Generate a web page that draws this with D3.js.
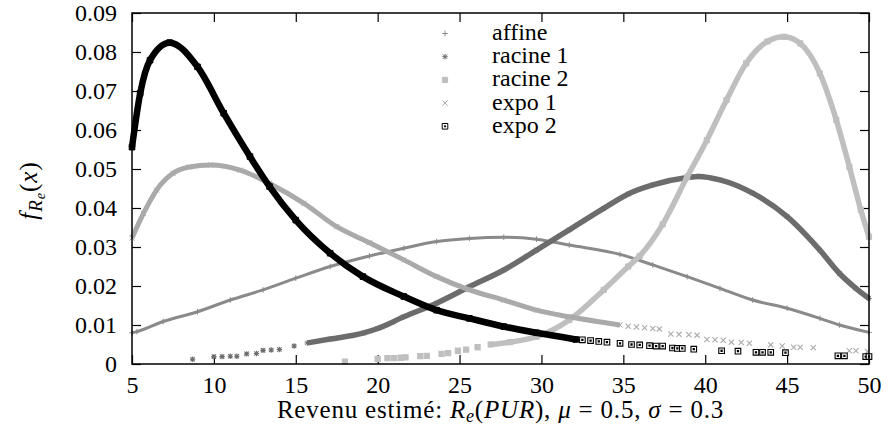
<!DOCTYPE html>
<html>
<head>
<meta charset="utf-8">
<script src="https://cdn.jsdelivr.net/npm/d3@7"></script>
</head>
<body style="margin:0;background:#fff">
<div id="chart"></div>
<script>
// ticks
var xTicks = [5, 10, 15, 20, 25, 30, 35, 40, 45, 50];
var yTicks = [0, 0.01, 0.02, 0.03, 0.04, 0.05, 0.06, 0.07, 0.08, 0.09];

// series: [revenu, densite]
// "dense" parts are drawn as a band, "sparse" parts as single markers
var affineDense = [[5.0,0.0080],[5.3,0.0083],[6.9,0.0109],[9.0,0.0134],[11.0,0.0164],[13.0,0.0190],
	[15.0,0.0220],[17.1,0.0250],[19.5,0.0277],[21.6,0.0297],[23.6,0.0314],[25.6,0.0322],[27.7,0.0325],
	[29.7,0.0320],[31.7,0.0305],[34.8,0.0281],[36.8,0.0254],[38.9,0.0224],[40.9,0.0194],[42.9,0.0164],
	[45.0,0.0143],[47.0,0.0117],[48.2,0.0100],[50.0,0.0081]];
var affineSparse = [];

var racine1Sparse = [[8.7,0.0012],[10.0,0.0019],[10.5,0.0019],[11.0,0.0020],[11.4,0.0020],[12.0,0.0026],
	[12.6,0.0027],[13.0,0.0035],[13.5,0.0036],[14.0,0.0037],[14.9,0.0046]];
var racine1Dense = [[15.7,0.0054],[17.1,0.0064],[19.1,0.0079],[20.0,0.0091],[21.6,0.0121],[23.6,0.0156],
	[25.6,0.0198],[27.7,0.0241],[29.7,0.0292],[31.7,0.0344],[33.8,0.0399],[35.3,0.0436],[36.8,0.0459],
	[38.9,0.0478],[39.6,0.0481],[40.9,0.0472],[42.9,0.0438],[45.0,0.0378],[47.0,0.0292],[48.2,0.0232],
	[49.2,0.0194],[50.0,0.0168]];

var racine2Sparse = [[18.0,0.0006],[20.0,0.0013],[20.6,0.0015],[21.0,0.0015],[21.4,0.0016],[21.7,0.0017],
	[22.6,0.0020],[23.0,0.0021],[23.9,0.0026],[24.3,0.0028],[24.9,0.0034],[25.4,0.0037],[26.1,0.0043]];
var racine2Dense = [[26.9,0.0050],[28.1,0.0056],[29.7,0.0070],[31.7,0.0113],[33.8,0.0190],[35.3,0.0250],
	[36.0,0.0277],[37.4,0.0358],[38.9,0.0480],[40.1,0.0574],[41.3,0.0677],[42.5,0.0771],[43.8,0.0827],
	[44.8,0.0839],[45.8,0.0822],[47.0,0.0745],[48.0,0.0626],[48.8,0.0506],[49.5,0.0395],[50.0,0.0326]];

var expo1Dense = [[5.0,0.0323],[5.7,0.0386],[6.5,0.0446],[7.5,0.0489],[8.5,0.0505],[9.8,0.0510],
	[11.6,0.0497],[13.4,0.0463],[15.5,0.0412],[17.5,0.0352],[19.5,0.0311],[21.6,0.0267],[23.6,0.0224],
	[25.6,0.0190],[27.7,0.0164],[29.7,0.0138],[31.7,0.0121],[34.8,0.0100]];
var expo1Sparse = [[35.3,0.0097],[35.8,0.0095],[36.3,0.0093],[36.8,0.0091],[37.2,0.0090],[37.9,0.0077],
	[38.4,0.0076],[39.0,0.0075],[39.5,0.0074],[40.1,0.0063],[40.6,0.0062],[41.1,0.0061],[41.6,0.0056],
	[42.2,0.0055],[42.7,0.0053],[44.0,0.0049],[44.7,0.0046],[45.4,0.0043],[45.8,0.0043],[46.6,0.0042],
	[48.8,0.0034],[49.2,0.0034],[49.9,0.0032]];

var expo2Dense = [[5.0,0.0556],[5.5,0.0694],[6.1,0.0779],[7.3,0.0824],[9.0,0.0762],[10.6,0.0643],
	[12.2,0.0532],[13.4,0.0455],[15.0,0.0369],[17.1,0.0284],[19.1,0.0224],[21.6,0.0173],[23.6,0.0138],
	[25.6,0.0117],[27.7,0.0096],[29.7,0.0080],[32.1,0.0063]];
var expo2Sparse = [[32.5,0.0062],[33.0,0.0060],[33.5,0.0058],[34.0,0.0056],[34.8,0.0053],[35.5,0.0050],
	[36.0,0.0049],[36.6,0.0047],[37.0,0.0046],[37.4,0.0046],[38.0,0.0041],[38.3,0.0040],[38.6,0.0040],
	[39.3,0.0038],[41.0,0.0034],[42.0,0.0033],[43.1,0.0030],[43.5,0.0030],[44.0,0.0030],[44.9,0.0029],
	[48.1,0.0021],[48.5,0.0021],[49.8,0.0019],[50.0,0.0019]];

var seriesNames = ['affine', 'racine 1', 'racine 2', 'expo 1', 'expo 2'];

// marker shapes
function plus(s)  { return 'M' + (-s) + ',0H' + s + 'M0,' + (-s) + 'V' + s; }
function cross(s) { return 'M' + (-s) + ',' + (-s) + 'L' + s + ',' + s + 'M' + (-s) + ',' + s + 'L' + s + ',' + (-s); }
function star(s)  { return plus(s) + cross(s * 0.8); }
function square(s){ return 'M' + (-s) + ',' + (-s) + 'H' + s + 'V' + s + 'H' + (-s) + 'Z'; }
function boxdot(s){ return square(s) + 'M-0.6,-0.6H0.6V0.6H-0.6Z'; }

var styles = [
	{ name: seriesNames[0], dense: affineDense,  sparse: affineSparse,  color: '#8a8a8a', band: 3,   mark: plus,   size: 2.8, fill: 'none' },
	{ name: seriesNames[1], dense: racine1Dense, sparse: racine1Sparse, color: '#6c6c6c', band: 5.5, mark: star,   size: 2.7, fill: 'none' },
	{ name: seriesNames[2], dense: racine2Dense, sparse: racine2Sparse, color: '#bfbfbf', band: 5.5, mark: square, size: 2.6, fill: '#bfbfbf' },
	{ name: seriesNames[3], dense: expo1Dense,   sparse: expo1Sparse,   color: '#aaaaaa', band: 5,   mark: cross,  size: 2.6, fill: 'none' },
	{ name: seriesNames[4], dense: expo2Dense,   sparse: expo2Sparse,   color: '#000000', band: 6.5, mark: boxdot, size: 2.8, fill: '#fff' }
];

var width = 888, height = 439;
var margin = { top: 13, right: 19, bottom: 75, left: 132 };
var viewWidth  = width - margin.left - margin.right;
var viewHeight = height - margin.top - margin.bottom;

var font = '"Liberation Serif"';
var fs = 24;
var tick = 9;

var svg = d3.select('#chart').append('svg')
	.attr('width', width)
	.attr('height', height);

var vis = svg.append('g')
	.attr('transform', 'translate(' + margin.left + ',' + margin.top + ')');

var xScale = d3.scaleLinear().domain([5, 50]).range([0, viewWidth]);
var yScale = d3.scaleLinear().domain([0, 0.09]).range([viewHeight, 0]);

// axes, ticks inward and mirrored
function styleAxis(g) {
	g.select('.domain').remove();
	g.selectAll('line').attr('stroke', '#000').attr('stroke-width', 1.2);
	g.selectAll('text')
		.attr('font-family', font)
		.attr('font-size', fs)
		.attr('fill', '#000');
}
var yFmt = function(d) { return d === 0 ? '0' : d3.format('.2f')(d); };

vis.append('g')
	.attr('transform', 'translate(0,' + viewHeight + ')')
	.call(d3.axisBottom(xScale).tickValues(xTicks).tickSizeInner(-tick).tickSizeOuter(0).tickPadding(12))
	.call(styleAxis);
vis.append('g')
	.call(d3.axisTop(xScale).tickValues(xTicks).tickSizeInner(-tick).tickSizeOuter(0).tickFormat(''))
	.call(styleAxis);
vis.append('g')
	.call(d3.axisLeft(yScale).tickValues(yTicks).tickSizeInner(-tick).tickSizeOuter(0).tickPadding(15).tickFormat(yFmt))
	.call(styleAxis);
vis.append('g')
	.attr('transform', 'translate(' + viewWidth + ',0)')
	.call(d3.axisRight(yScale).tickValues(yTicks).tickSizeInner(-tick).tickSizeOuter(0).tickFormat(''))
	.call(styleAxis);

// series
var line = d3.line()
	.x(function(d) { return xScale(d[0]); })
	.y(function(d) { return yScale(d[1]); })
	.curve(d3.curveMonotoneX);

var series = vis.append('g').attr('class', 'series')
	.selectAll('g')
	.data(styles)
	.enter().append('g');

series.append('path')
	.attr('d', function(d) { return line(d.dense); })
	.attr('fill', 'none')
	.attr('stroke', function(d) { return d.color; })
	.attr('stroke-width', function(d) { return d.band; })
	.attr('stroke-linejoin', 'round');

series.each(function(s) {
	var g = d3.select(this);
	// markers sitting inside the band
	g.selectAll('path.dpt')
		.data(s.dense)
		.enter().append('path')
		.attr('class', 'dpt')
		.attr('transform', function(d) { return 'translate(' + xScale(d[0]) + ',' + yScale(d[1]) + ')'; })
		.attr('d', s.mark(s.size))
		.attr('fill', s.fill === 'none' ? 'none' : s.color)
		.attr('stroke', s.color)
		.attr('stroke-width', 1);
	// isolated markers
	g.selectAll('path.spt')
		.data(s.sparse)
		.enter().append('path')
		.attr('class', 'spt')
		.attr('transform', function(d) { return 'translate(' + xScale(d[0]) + ',' + yScale(d[1]) + ')'; })
		.attr('d', s.mark(s.size))
		.attr('fill', s.fill)
		.attr('stroke', s.color)
		.attr('stroke-width', 1.1);
});

// frame
vis.append('rect')
	.attr('width', viewWidth)
	.attr('height', viewHeight)
	.attr('fill', 'none')
	.attr('stroke', '#000')
	.attr('stroke-width', 1.5);

// legend
var legend = svg.append('g').attr('class', 'legend')
	.selectAll('g')
	.data(styles)
	.enter().append('g')
	.attr('transform', function(d, i) { return 'translate(445,' + (33.5 + i * 23.2) + ')'; });
legend.append('path')
	.attr('d', function(d) { return d.mark(d.size); })
	.attr('fill', function(d) { return d.fill; })
	.attr('stroke', function(d) { return d.color; })
	.attr('stroke-width', 1);
legend.append('text')
	.attr('x', 47)
	.attr('y', 6.5)
	.attr('font-family', font)
	.attr('font-size', fs)
	.text(function(d) { return d.name; });

// axis titles
var xt = svg.append('text')
	.attr('x', (margin.left + width - margin.right) / 2)
	.attr('y', 418)
	.attr('text-anchor', 'middle')
	.attr('font-family', font)
	.attr('font-size', 25)
	.attr('letter-spacing', 0.8);
xt.append('tspan').text('Revenu estimé: ');
xt.append('tspan').attr('font-style', 'italic').text('R');
xt.append('tspan').attr('font-style', 'italic').attr('font-size', 18).attr('dy', 4).text('e');
xt.append('tspan').attr('dy', -4).text('(');
xt.append('tspan').attr('font-style', 'italic').text('PUR');
xt.append('tspan').text('), ');
xt.append('tspan').attr('font-style', 'italic').text('μ');
xt.append('tspan').text(' = 0.5, ');
xt.append('tspan').attr('font-style', 'italic').text('σ');
xt.append('tspan').text(' = 0.3');

var yt = svg.append('text')
	.attr('transform', 'translate(37,' + (margin.top + viewHeight / 2 + 2) + ') rotate(-90)')
	.attr('text-anchor', 'middle')
	.attr('font-family', font)
	.attr('font-size', 25)
	.attr('letter-spacing', 1);
yt.append('tspan').attr('font-style', 'italic').text('f');
yt.append('tspan').attr('font-style', 'italic').attr('font-size', 19).attr('dy', 5).text('R');
yt.append('tspan').attr('font-style', 'italic').attr('font-size', 14).attr('dy', 3).text('e');
yt.append('tspan').attr('dy', -8).text('(');
yt.append('tspan').attr('font-style', 'italic').text('x');
yt.append('tspan').text(')');
</script>
</body>
</html>
